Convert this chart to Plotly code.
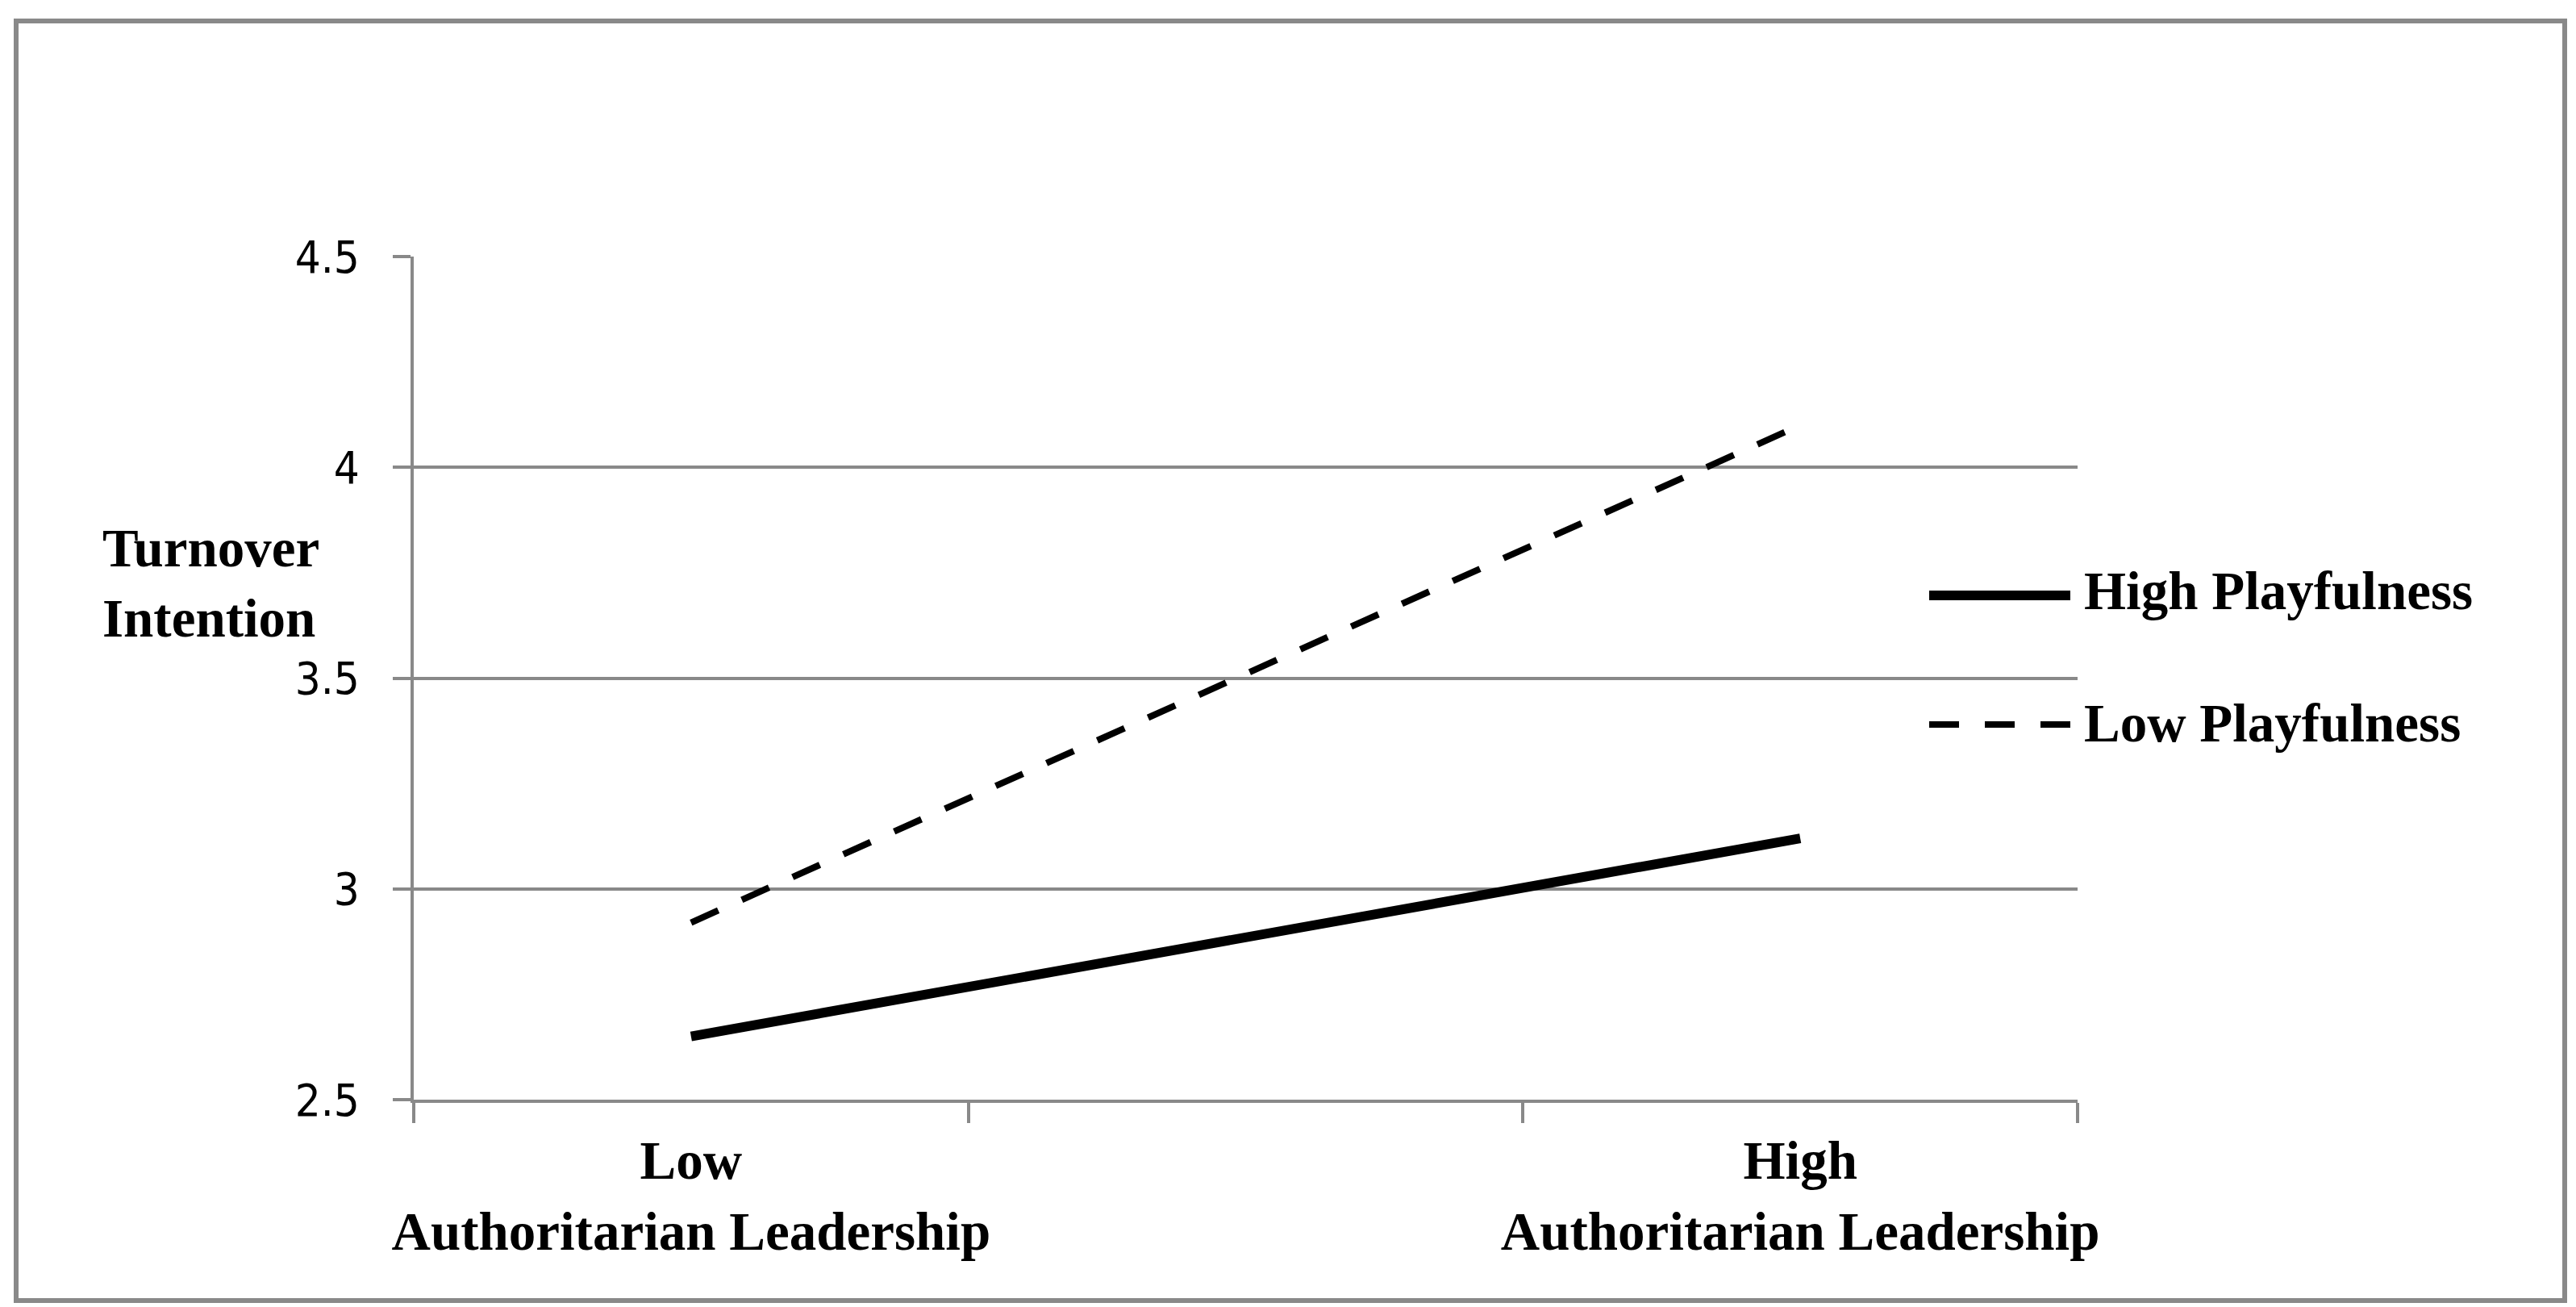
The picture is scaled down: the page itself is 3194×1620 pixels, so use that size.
import plotly.graph_objects as go

# ---- data ----
categories = ["Low<br>Authoritarian Leadership", " ", "High<br>Authoritarian Leadership"]
series_names = ["High Playfulness", "Low Playfulness"]
high_playfulness = [2.65, 3.12]
low_playfulness = [2.92, 4.10]
y_tickvals = [2.5, 3, 3.5, 4, 4.5]
y_ticktext = ["2.5", "3", "3.5", "4", "4.5"]
y_title_lines = ["Turnover", "Intention"]

# ---- geometry (pixels) ----
W, H = 3194, 1620
L, R, T, B = 505, 2568, 310, 1355
GRAY = "#898989"
SERIF = "Liberation Serif, Times New Roman, serif"
NARROW = "Liberation Sans Narrow, DejaVu Sans Condensed, Arial Narrow, sans-serif"


def px(x):
    return (x - L) / (R - L)


def py(y):
    return (B - y) / (B - T)


x_pts = [categories[0], categories[2]]

fig = go.Figure()
fig.add_trace(go.Scatter(
    x=x_pts, y=high_playfulness, mode="lines", name=series_names[0],
    line=dict(color="black", width=12), showlegend=False,
))
fig.add_trace(go.Scatter(
    x=x_pts, y=low_playfulness, mode="lines", name=series_names[1],
    line=dict(color="black", width=8, dash="37px,32px"), showlegend=False,
))

shapes = [
    # outer frame
    dict(type="rect", xref="paper", yref="paper",
         x0=px(12), x1=px(3172), y0=py(1604), y1=py(18),
         line=dict(color=GRAY, width=6), fillcolor="rgba(0,0,0,0)", layer="below"),
    # legend samples
    dict(type="line", xref="paper", yref="paper",
         x0=px(2384), x1=px(2559), y0=py(730), y1=py(730),
         line=dict(color="black", width=12)),
    dict(type="line", xref="paper", yref="paper",
         x0=px(2384), x1=px(2559), y0=py(890), y1=py(890),
         line=dict(color="black", width=8, dash="37px,32px")),
]

annotations = [
    dict(xref="paper", yref="paper", x=px(2574), y=py(724), xanchor="left", yanchor="middle",
         text=series_names[0], showarrow=False,
         font=dict(family=SERIF, size=67, color="black", weight="bold")),
    dict(xref="paper", yref="paper", x=px(2574), y=py(888), xanchor="left", yanchor="middle",
         text=series_names[1], showarrow=False,
         font=dict(family=SERIF, size=67, color="black", weight="bold")),
    dict(xref="paper", yref="paper", x=px(117), y=py(714), xanchor="left", yanchor="middle",
         text="<br>".join(y_title_lines), align="left", showarrow=False,
         font=dict(family=SERIF, size=67, color="black", weight="bold")),
]

fig.update_layout(
    width=W, height=H,
    margin=dict(l=L, r=W - R, t=T, b=H - B, pad=0),
    paper_bgcolor="white", plot_bgcolor="white",
    showlegend=False,
    shapes=shapes,
    annotations=annotations,
    xaxis=dict(
        type="category", categoryorder="array", categoryarray=categories,
        range=[-0.5, 2.5], tickson="boundaries", tickangle=0, automargin=False,
        ticks="outside", ticklen=25, tickwidth=4, tickcolor=GRAY,
        showline=True, linecolor=GRAY, linewidth=4,
        showgrid=False, zeroline=False,
        tickfont=dict(family=SERIF, size=67, color="black", weight="bold"),
        ticklabelstandoff=14,
    ),
    yaxis=dict(
        range=[2.5, 4.5], tickmode="array", tickvals=y_tickvals, ticktext=y_ticktext,
        automargin=False,
        ticks="outside", ticklen=22, tickwidth=4, tickcolor=GRAY,
        showline=True, linecolor=GRAY, linewidth=4,
        showgrid=True, gridcolor=GRAY, gridwidth=4, zeroline=False,
        tickfont=dict(family=NARROW, size=56, color="black"),
        ticklabelstandoff=30,
    ),
)

fig.write_html("out.html")
